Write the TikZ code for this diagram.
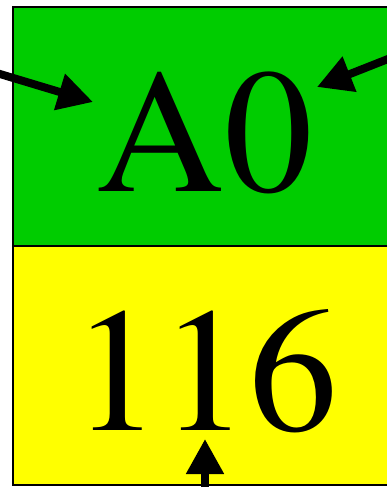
\documentclass[tikz,border=0pt]{standalone}
\usepackage[T1]{fontenc}
\usepackage{times}
\usetikzlibrary{arrows.meta}
\definecolor{boxgreen}{RGB}{0,204,0}
\definecolor{boxyellow}{RGB}{255,255,0}
\tikzset{
  cell/.style={draw=black, line width=2pt, minimum width=384pt, minimum height=239pt, inner sep=0pt, outer sep=0pt, anchor=north west},
  bigtext/.style={inner sep=0pt, anchor=base, font=\fontsize{177}{177}\selectfont},
  ptr/.style={line width=8pt, -{Triangle[length=35pt,width=36pt]}}
}
\begin{document}
\begin{tikzpicture}[x=1pt,y=-1pt]
\useasboundingbox (0,0) rectangle (387,487);
\node[cell, fill=boxgreen] (a0) at (13,7) {};
\node[cell, fill=boxyellow] (n116) at (13,246) {};
\node[bigtext] (ta0) at (205,191) {A0};
\node[bigtext] (t116) at (205,430) {116};
\coordinate (s1) at (-20,68);
\coordinate (e1) at (93,102);
\coordinate (s2) at (407,51.5);
\coordinate (e2) at (317,87);
\coordinate (s3) at (205,500);
\coordinate (e3) at (205,439);
\draw[ptr] (s1) -- (e1);
\draw[ptr] (s2) -- (e2);
\draw[ptr] (s3) -- (e3);
\end{tikzpicture}
\end{document}
